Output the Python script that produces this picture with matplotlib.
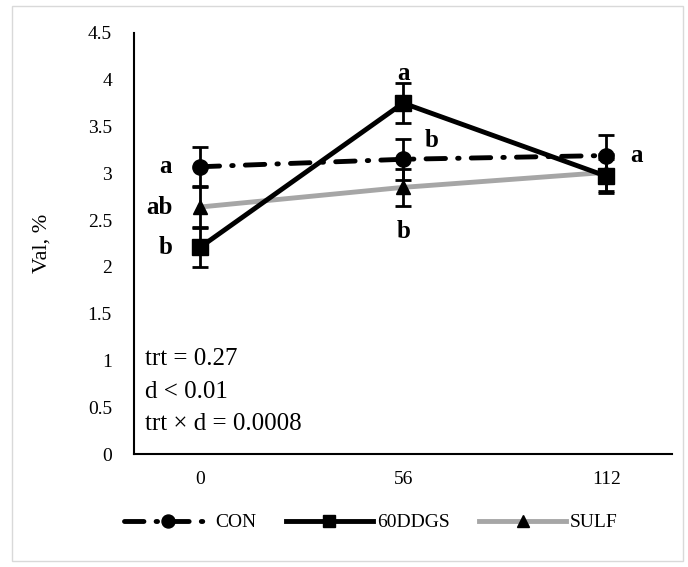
import matplotlib.pyplot as plt
from matplotlib.patches import Rectangle

plt.rcParams['font.family'] = ['Liberation Serif', 'DejaVu Serif']

days = ['0', '56', '112']
con = [3.07, 3.15, 3.19]
con_err = [0.21, 0.22, 0.22]
ddgs = [2.21, 3.75, 2.97]
ddgs_err = [0.21, 0.21, 0.18]
sulf = [2.64, 2.85, 3.01]
sulf_err = [0.21, 0.20, 0.20]

# significance letters: (x index, y value, text)
letters = [
    (0, 3.07, 'a'), (0, 2.64, 'ab'), (0, 2.21, 'b'),
    (1, 4.07, 'a'), (1, 3.35, 'b'), (1, 2.38, 'b'),
    (2, 3.19, 'a'),
]
letter_dx = [-0.17, -0.20, -0.17, 0.0, 0.14, 0.0, 0.15]
stats = ['trt = 0.27', 'd < 0.01', 'trt \u00d7 d = 0.0008']

fig = plt.figure(figsize=(6.88, 5.67), dpi=100)
ax = fig.add_axes([0.195, 0.199, 0.782, 0.743])
fig.patches.append(Rectangle((0.017, 0.01), 0.976, 0.98, transform=fig.transFigure,
                             fill=False, edgecolor='#d9d9d9', lw=1))

x = list(range(len(days)))
eb = dict(fmt='none', ecolor='black', elinewidth=2, capsize=6, capthick=2)

ax.errorbar(x, sulf, yerr=sulf_err, zorder=2, **eb)
l_sulf, = ax.plot(x, sulf, color='#a6a6a6', lw=3.5, marker='^', ms=10,
                  mfc='black', mec='black', label='SULF', zorder=2)
ax.errorbar(x, ddgs, yerr=ddgs_err, zorder=3, **eb)
l_ddgs, = ax.plot(x, ddgs, color='black', lw=3.5, marker='s', ms=11,
                  label='60DDGS', zorder=3)
ax.errorbar(x, con, yerr=con_err, zorder=4, **eb)
l_con, = ax.plot(x, con, color='black', lw=3.5, marker='o', ms=11,
                 ls=(0, (4, 2.5, 0.3, 2.5)), dash_capstyle='round',
                 label='CON', zorder=4)

for (xi, yi, t), dx in zip(letters, letter_dx):
    ax.text(xi + dx, yi, t, ha='center', va='center', fontsize=18, fontweight='bold')

for i, s in enumerate(stats):
    ax.text(0.02, 0.225 - i * 0.077, s, transform=ax.transAxes, fontsize=18,
            ha='left', va='center')

ax.set_xlim(-0.325, 2.325)
ax.set_ylim(0, 4.5)
ax.set_xticks(x)
ax.set_xticklabels(days)
ax.set_yticks([0, 0.5, 1, 1.5, 2, 2.5, 3, 3.5, 4, 4.5])
ax.set_yticklabels(['0', '0.5', '1', '1.5', '2', '2.5', '3', '3.5', '4', '4.5'])
ax.tick_params(length=0, labelsize=14)
ax.tick_params(axis='y', pad=16)
ax.tick_params(axis='x', pad=12)
ax.spines['top'].set_visible(False)
ax.spines['right'].set_visible(False)
ax.spines['left'].set_linewidth(1.5)
ax.spines['bottom'].set_linewidth(1.5)
ax.set_ylabel('Val, %', fontsize=16, labelpad=26)

ax.legend([l_con, l_ddgs, l_sulf], ['CON', '60DDGS', 'SULF'], loc='upper center',
          bbox_to_anchor=(0.44, -0.1), ncol=3, frameon=False, fontsize=14,
          handlelength=4.5, columnspacing=1.5, handletextpad=0.2, markerscale=0.85)

fig.savefig('out.png', dpi=100)
